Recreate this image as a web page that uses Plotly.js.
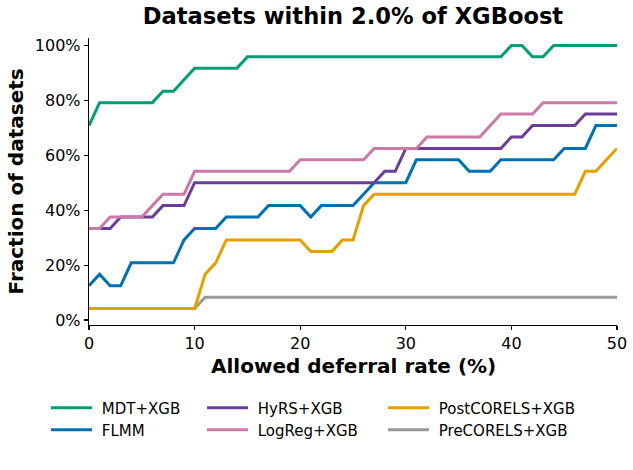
<!DOCTYPE html>
<html>
<head>
<meta charset="utf-8">
<script src="https://cdn.plot.ly/plotly-3.0.1.min.js"></script>
<style>
  html, body { margin: 0; padding: 0; background: #fff; }
  #chart { width: 633px; height: 470px; }
</style>
</head>
<body>
<div id="chart"></div>
<script>
// Number of benchmark datasets; each series counts how many of them stay
// within 2.0% of XGBoost at a given deferral rate.
const nDatasets = 24;

// Allowed deferral rate (%)
const deferralRate = [0, 1, 2, 3, 4, 5, 6, 7, 8, 9, 10, 11, 12, 13, 14, 15, 16, 17, 18, 19, 20,
  21, 22, 23, 24, 25, 26, 27, 28, 29, 30, 31, 32, 33, 34, 35, 36, 37, 38, 39, 40,
  41, 42, 43, 44, 45, 46, 47, 48, 49, 50];

// Datasets within tolerance, per method
const mdtXgb = [17, 19, 19, 19, 19, 19, 19, 20, 20, 21, 22, 22, 22, 22, 22, 23, 23, 23, 23, 23, 23,
  23, 23, 23, 23, 23, 23, 23, 23, 23, 23, 23, 23, 23, 23, 23, 23, 23, 23, 23, 24,
  24, 23, 23, 24, 24, 24, 24, 24, 24, 24];
const flmm = [3, 4, 3, 3, 5, 5, 5, 5, 5, 7, 8, 8, 8, 9, 9, 9, 9, 10, 10, 10, 10,
  9, 10, 10, 10, 10, 11, 12, 12, 12, 12, 14, 14, 14, 14, 14, 13, 13, 13, 14, 14,
  14, 14, 14, 14, 15, 15, 15, 17, 17, 17];
const hyrsXgb = [8, 8, 8, 9, 9, 9, 9, 10, 10, 10, 12, 12, 12, 12, 12, 12, 12, 12, 12, 12, 12,
  12, 12, 12, 12, 12, 12, 12, 13, 13, 15, 15, 15, 15, 15, 15, 15, 15, 15, 15, 16,
  16, 17, 17, 17, 17, 17, 18, 18, 18, 18];
const logregXgb = [8, 8, 9, 9, 9, 9, 10, 11, 11, 11, 13, 13, 13, 13, 13, 13, 13, 13, 13, 13, 14,
  14, 14, 14, 14, 14, 14, 15, 15, 15, 15, 15, 16, 16, 16, 16, 16, 16, 17, 18, 18,
  18, 18, 19, 19, 19, 19, 19, 19, 19, 19];
const postcorelsXgb = [1, 1, 1, 1, 1, 1, 1, 1, 1, 1, 1, 4, 5, 7, 7, 7, 7, 7, 7, 7, 7,
  6, 6, 6, 7, 7, 10, 11, 11, 11, 11, 11, 11, 11, 11, 11, 11, 11, 11, 11, 11,
  11, 11, 11, 11, 11, 11, 13, 13, 14, 15];
const precorelsXgb = [1, 1, 1, 1, 1, 1, 1, 1, 1, 1, 1, 2, 2, 2, 2, 2, 2, 2, 2, 2, 2,
  2, 2, 2, 2, 2, 2, 2, 2, 2, 2, 2, 2, 2, 2, 2, 2, 2, 2, 2, 2,
  2, 2, 2, 2, 2, 2, 2, 2, 2, 2];

const xTicks = [0, 10, 20, 30, 40, 50];
const yTicks = [0, 0.2, 0.4, 0.6, 0.8, 1.0];

const FONT = '"DejaVu Sans", "Liberation Sans", sans-serif';
const W = 633, H = 470;
const M = { l: 89, r: 16, t: 38, b: 145 };
const plotH = H - M.t - M.b;
const plotW = W - M.l - M.r;

// Legend grid: three columns of two rows below the axes (pixel positions).
const legendColX = [46, 202, 383];
const legendRowY = [391.5, 413.5];

// Draw order (later traces sit on top); each entry gets its own legend cell.
const series = [
  { name: 'MDT+XGB',        counts: mdtXgb,        color: '#009e73', col: 0, row: 0 },
  { name: 'FLMM',           counts: flmm,          color: '#0072b2', col: 0, row: 1 },
  { name: 'HyRS+XGB',       counts: hyrsXgb,       color: '#6a3d9a', col: 1, row: 0 },
  { name: 'LogReg+XGB',     counts: logregXgb,     color: '#cc79a7', col: 1, row: 1 },
  { name: 'PreCORELS+XGB',  counts: precorelsXgb,  color: '#999999', col: 2, row: 1 },
  { name: 'PostCORELS+XGB', counts: postcorelsXgb, color: '#e69f00', col: 2, row: 0 }
];

const legendBase = {
  orientation: 'v',
  xref: 'container',
  yref: 'container',
  xanchor: 'left',
  yanchor: 'top',
  bgcolor: 'rgba(0,0,0,0)',
  borderwidth: 0,
  itemwidth: 41,
  font: { family: FONT, size: 15, color: '#000' }
};

const titleFont = { family: FONT, size: 20, weight: 'bold', color: '#000' };

const layout = {
  width: W,
  height: H,
  margin: Object.assign({ autoexpand: false }, M),
  showlegend: true,
  paper_bgcolor: '#fff',
  plot_bgcolor: '#fff',
  font: { family: FONT, color: '#000' },
  title: {
    text: 'Datasets within 2.0% of XGBoost',
    font: { family: FONT, size: 22.6, weight: 'bold', color: '#000' },
    xref: 'paper', x: 0.5, xanchor: 'center',
    yref: 'container', y: 1 - 16 / H, yanchor: 'middle'
  },
  annotations: [
    {
      text: 'Allowed deferral rate (%)',
      xref: 'paper', yref: 'paper',
      x: 0.5, y: -(366 - (H - M.b)) / plotH,
      xanchor: 'center', yanchor: 'middle',
      showarrow: false, font: titleFont
    },
    {
      text: 'Fraction of datasets',
      xref: 'paper', yref: 'paper',
      x: -(M.l - 15) / plotW, y: 0.5,
      xanchor: 'center', yanchor: 'middle',
      textangle: -90,
      showarrow: false, font: titleFont
    }
  ]
};

const traces = series.map((s, i) => {
  const key = i === 0 ? 'legend' : 'legend' + (i + 1);
  layout[key] = Object.assign({}, legendBase, {
    x: legendColX[s.col] / W,
    y: 1 - legendRowY[s.row] / H
  });
  return {
    type: 'scatter',
    mode: 'lines',
    name: '\u00a0' + s.name,
    x: deferralRate,
    y: s.counts.map(c => c / nDatasets),
    line: { color: s.color, width: 3 },
    legend: key,
    hoverinfo: 'skip'
  };
});

const axisBase = {
  showgrid: false,
  zeroline: false,
  showline: true,
  linecolor: '#000',
  linewidth: 1.25,
  ticks: 'outside',
  ticklen: 4,
  tickwidth: 1.25,
  tickcolor: '#000',
  tickfont: { family: FONT, size: 16, color: '#000' },
  automargin: false,
  fixedrange: true
};

layout.xaxis = Object.assign({}, axisBase, {
  range: [0, 50],
  tickvals: xTicks
});
layout.yaxis = Object.assign({}, axisBase, {
  range: [-0.018, 1.027],
  tickvals: yTicks,
  tickformat: '.0%'
});

Plotly.newPlot('chart', traces, layout, { displayModeBar: false, staticPlot: true });
</script>
</body>
</html>
